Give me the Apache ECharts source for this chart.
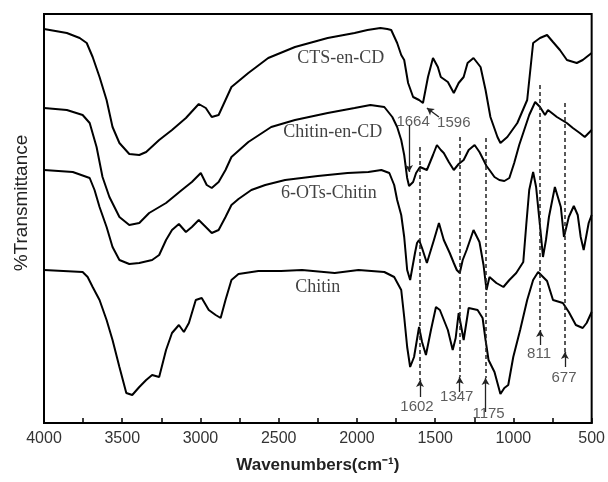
<!DOCTYPE html>
<html><head><meta charset="utf-8">
<script src="https://cdn.jsdelivr.net/npm/echarts@6/dist/echarts.min.js"></script>
<style>html,body{margin:0;padding:0;background:#fff}#c{width:608px;height:482px}</style>
</head><body><div id="c"></div>
<script>
// CTS-en-CD
const ctsWave = [4000,3854,3772,3727,3689,3645,3600,3562,3518,3455,3391,3347,3264,3182,3093,3011,2966,2928,2884,2840,2802,2694,2567,2396,2187,2015,1933,1850,1806,1781,1743,1717,1698,1673,1641,1603,1578,1546,1514,1483,1464,1419,1381,1350,1318,1293,1255,1210,1178,1147,1102,1083,1039,975,912,874,830,785,747,703,658,595,557,500];
const ctsT = [394,390,385,380,366,346,323,296,280,269,268,271,283,293,305,319,315,306,308,323,336,350,365,376,385,390,393,395,394,393,380,368,363,340,326,323,320,346,365,356,346,341,330,340,346,360,365,356,333,306,286,280,286,300,323,380,385,388,381,373,363,360,363,370];
// Chitin-en-CD
const chitinEnWave = [4000,3854,3753,3708,3664,3626,3582,3518,3455,3391,3328,3220,3119,3055,2998,2960,2928,2884,2840,2802,2694,2548,2396,2187,2015,1914,1825,1774,1743,1717,1698,1679,1667,1641,1622,1597,1553,1514,1489,1464,1445,1413,1381,1350,1318,1286,1248,1217,1191,1172,1153,1121,1090,1058,1026,995,963,931,899,861,830,798,779,722,659,620,576,544,500];
const chitinEnT = [315,313,308,300,276,246,226,206,198,200,210,220,233,241,250,238,235,241,253,266,281,296,303,310,315,318,316,306,296,283,268,245,237,241,250,256,253,268,278,273,270,261,253,259,263,273,278,271,263,257,253,246,243,242,245,260,278,293,308,321,316,308,313,306,300,295,290,286,293];
// 6-OTs-Chitin
const otsWave = [4000,3816,3708,3677,3645,3600,3562,3518,3455,3391,3309,3264,3220,3182,3138,3093,3055,3011,2966,2928,2884,2840,2802,2757,2675,2586,2459,2250,2060,1927,1844,1793,1762,1743,1717,1698,1679,1660,1629,1616,1603,1584,1553,1508,1476,1445,1407,1381,1362,1343,1324,1299,1255,1217,1191,1172,1153,1109,1064,1026,982,937,918,899,874,855,823,811,792,773,735,697,677,646,614,589,570,551,519,500];
const otsT = [253,251,245,233,216,196,176,163,159,160,163,168,183,193,199,191,196,203,196,190,193,206,218,224,233,238,243,247,250,251,253,250,238,223,208,186,153,143,170,180,183,175,160,183,200,183,170,160,153,150,163,173,193,181,158,133,146,140,136,143,150,161,198,233,251,236,186,166,183,206,236,216,186,206,217,208,186,173,200,208];
// Chitin
const chitinWave = [4000,3753,3721,3689,3645,3600,3562,3518,3474,3436,3391,3347,3309,3264,3220,3182,3138,3106,3074,3030,2992,2947,2903,2871,2840,2802,2757,2630,2485,2351,2142,1990,1825,1762,1717,1698,1679,1660,1635,1603,1584,1559,1527,1495,1470,1419,1388,1369,1350,1318,1286,1229,1197,1178,1159,1121,1083,1058,1033,1001,957,912,874,842,785,747,684,646,601,557,532,500];
const chitinT = [153,151,146,136,123,103,83,56,30,28,36,43,48,46,73,90,98,91,100,123,125,113,108,105,123,143,149,152,152,153,150,153,151,146,133,106,76,56,66,96,81,68,93,116,113,93,73,85,110,83,115,113,105,83,63,51,29,35,38,66,93,123,143,151,142,123,120,111,98,95,100,111];

// curve names and where they are written (data coords)
const curveNames = ['CTS-en-CD','Chitin-en-CD','6-OTs-Chitin','Chitin'];
const curveNameWave = [2104,2155,2180,2250];
const curveNameT = [365,291,230,136];

// band markers (dashed guides with arrows)
const bandLabels = ['1602','1347','1175','811','677'];
const bandWave = [1597,1343,1178,830,671];
const guideTopT = [276,286,285,338,320];
const guideBottomT = [43,46,45,93,71];
const arrowBottomT = [26,31,11,78,56];
const bandLabelWave = [1616,1362,1159,836,677];
const bandLabelT = [16,26,9,69,45];

// upper annotations 1664 / 1596
const topLabels = ['1664','1596'];
const topLabelWave = [1641,1381];
const topLabelT = [301,300];

const xTickLabels = [4000,3500,3000,2500,2000,1500,1000,500];
const xTitle = 'Wavenumbers(cm⁻¹)';
const yTitle = '%Transmittance';

const zip = (a,b) => a.map((v,i) => [v,b[i]]);
const lineStyle = {color:'#000', width:2};
const mk = (name, w, t) => ({type:'line', name, data: zip(w,t), showSymbol:false, symbol:'none', lineStyle, animation:false, silent:true});

const guideLines = bandWave.map((w,i)=>[{coord:[w,guideTopT[i]]},{coord:[w,guideBottomT[i]]}]);
const arrowLines = bandWave.map((w,i)=>[{coord:[w,arrowBottomT[i]]},{coord:[w,guideBottomT[i]]}]);

const chart = echarts.init(document.getElementById('c'));
const serifFont = 'Liberation Serif';
const sansFont = 'Liberation Sans';

chart.setOption({
  animation:false,
  backgroundColor:'#fff',
  grid:{left:44,right:12,top:14,bottom:59,show:true,borderColor:'#000',borderWidth:2},
  graphic:[{type:'text',x:22,y:203,rotation:Math.PI/2,silent:true,
    style:{text:yTitle,fontSize:19,fontFamily:sansFont,fill:'#222',textAlign:'center',textVerticalAlign:'middle'}}],
  xAxis:{type:'value',min:500,max:4000,interval:250,inverse:true,
    axisLine:{show:true,lineStyle:{color:'#000',width:2}},
    axisTick:{show:true,inside:true,length:5,lineStyle:{color:'#000',width:1.5}},
    axisLabel:{fontSize:16,color:'#333',fontFamily:sansFont,margin:8,showMinLabel:true,showMaxLabel:true,
      formatter:v=> xTickLabels.includes(v)? String(v):''},
    splitLine:{show:false},
    name:xTitle,nameLocation:'middle',nameGap:34,
    nameTextStyle:{fontSize:17,fontWeight:'bold',color:'#222',fontFamily:sansFont}
  },
  yAxis:{type:'value',min:0,max:409,
    axisLine:{show:true,lineStyle:{color:'#000',width:2}},
    axisTick:{show:false},axisLabel:{show:false},splitLine:{show:false}
  },
  series:[
    mk('CTS-en-CD',ctsWave,ctsT),
    mk('Chitin-en-CD',chitinEnWave,chitinEnT),
    mk('6-OTs-Chitin',otsWave,otsT),
    Object.assign(mk('Chitin',chitinWave,chitinT),{
      markLine:{silent:true,animation:false,symbol:['none','none'],label:{show:false},
        lineStyle:{type:[4,3],color:'#222',width:1.5},
        data:guideLines}
    }),
    {type:'line',name:'arrows',data:[],animation:false,silent:true,
      markLine:{silent:true,animation:false,symbol:['none','arrow'],symbolSize:[6,7],label:{show:false},
        lineStyle:{type:'solid',color:'#222',width:1.3},
        data:arrowLines.concat([
          [{coord:[1667,298]},{coord:[1667,251]}],
          [{coord:[1476,306]},{coord:[1553,315]}]
        ])}
    },
    {type:'scatter',name:'curveNames',symbolSize:1,itemStyle:{color:'rgba(0,0,0,0)'},animation:false,silent:true,
      data:curveNames.map((n,i)=>[curveNameWave[i],curveNameT[i],n]),
      label:{show:true,position:'inside',formatter:p=>p.data[2],fontFamily:serifFont,fontSize:18,color:'#111'}
    },
    {type:'scatter',name:'bandLabels',symbolSize:1,itemStyle:{color:'rgba(0,0,0,0)'},animation:false,silent:true,
      data:bandLabels.map((n,i)=>[bandLabelWave[i],bandLabelT[i],n]).concat(topLabels.map((n,i)=>[topLabelWave[i],topLabelT[i],n])),
      label:{show:true,position:'inside',formatter:p=>p.data[2],fontFamily:sansFont,fontSize:15,color:'#333'}
    }
  ]
});
</script></body></html>
